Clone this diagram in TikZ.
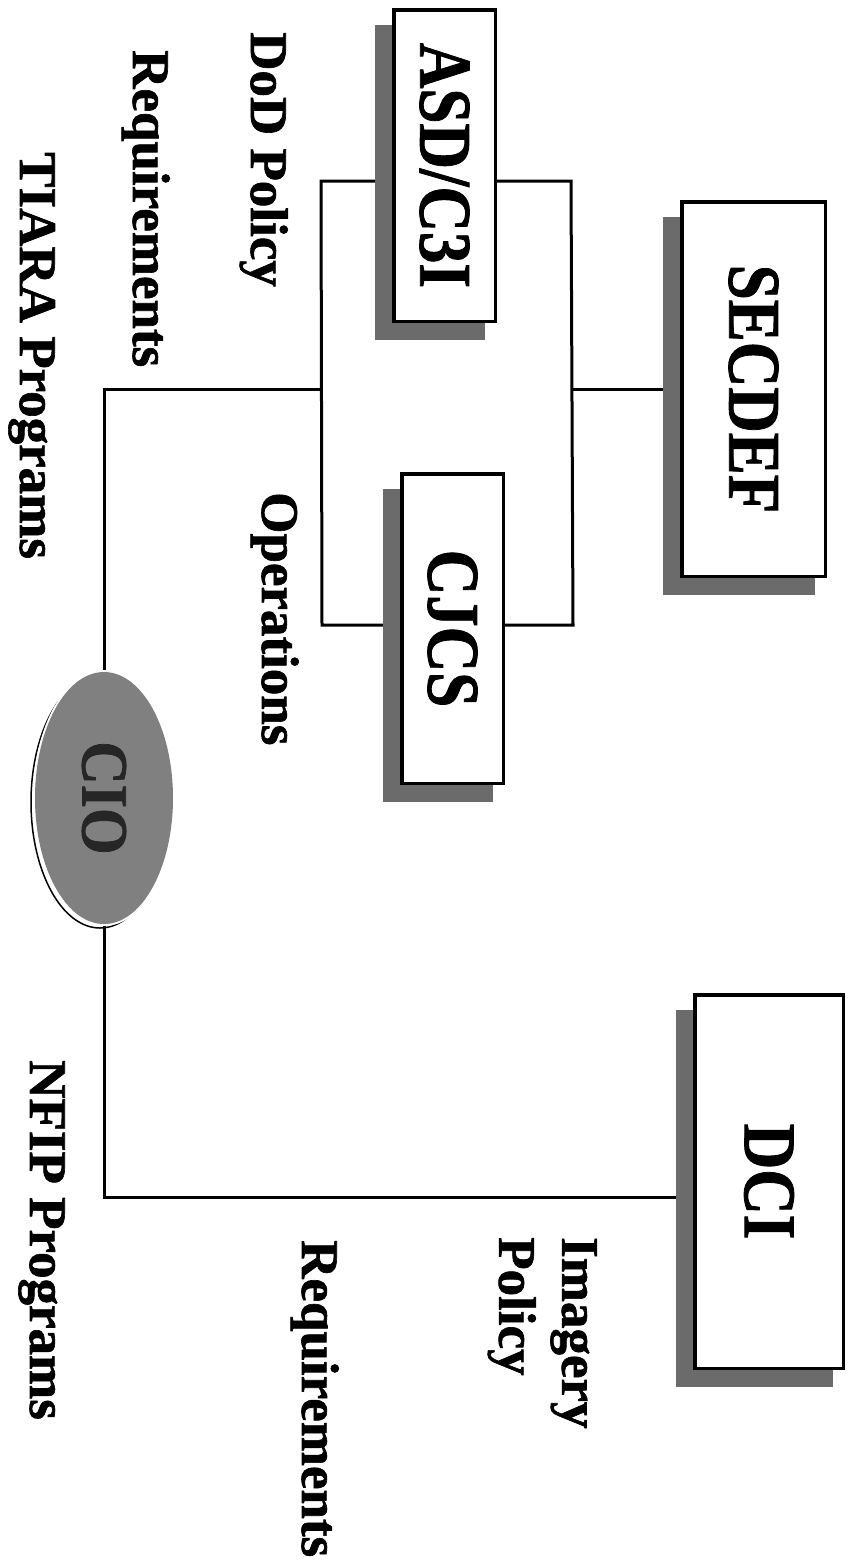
\documentclass[tikz,border=0pt]{standalone}
\usepackage{fontspec}
\setmainfont{Liberation Serif}[BoldFeatures={FakeBold=1.2}]
\usepackage{graphicx}
\usetikzlibrary{shapes.geometric}
\pgfdeclarelayer{bg}
\pgfdeclarelayer{shad}
\pgfsetlayers{bg,shad,main}
\begin{document}
\begin{tikzpicture}[x=1pt,y=-1pt,
  conn/.style={line width=3pt},
  orgbox/.style={draw, line width=3.5pt, fill=white, rotate=-90, inner sep=0pt,
    font=\bfseries\fontsize{63}{70}\selectfont},
  shadowfill/.style={fill=black!58},
  lab/.style={rotate=-90, inner sep=0pt, anchor=base west,
    font=\bfseries\fontsize{53}{63}\selectfont},
  ciostyle/.style={ellipse, fill=black!50, inner sep=0pt,
    font=\bfseries\fontsize{60}{66}\selectfont, text=black!85},
]
\useasboundingbox (0,0) rectangle (849,1566);

% boxes
\node[orgbox, minimum width=374.5pt, minimum height=143.5pt] (secdef) at (753.5,389) {\scalebox{1}[1.18]{SECDEF}};
\node[orgbox, minimum width=311.5pt, minimum height=101.5pt] (asd) at (444.5,165.5) {\scalebox{1}[1.18]{ASD/C3I}};
\node[orgbox, minimum width=309.5pt, minimum height=101.5pt] (cjcs) at (452.5,628.5) {\scalebox{1}[1.18]{CJCS}};
\node[orgbox, minimum width=373.5pt, minimum height=148.5pt] (dci) at (769,1181.5) {\scalebox{1}[1.18]{DCI}};
\node[ciostyle, minimum width=138pt, minimum height=252pt] (cio) at (104,798) {\rotatebox{-90}{\scalebox{1}[1.1]{CIO}}};

% labels
\node[lab] (dodpolicy) at (251,32) {DoD Policy};
\node[lab] (reqleft) at (133,50) {Requirements};
\node[lab] (tiara) at (20,152) {TIARA Programs};
\node[lab] (ops) at (262,492) {Operations};
\node[lab, anchor=north west, align=left] (imgpol) at (597,1237) {Imagery\\Policy};
\node[lab] (reqright) at (302,1240) {Requirements};
\node[lab] (nfip) at (30,1060) {NFIP Programs};

% bracket coordinates
\coordinate (bTL) at (321,181);
\coordinate (bTR) at (571,181);
\coordinate (bBR) at (573,625);
\coordinate (bBL) at (322,625);
\coordinate (bL) at (321,389);
\coordinate (bR) at (571,386);

\begin{pgfonlayer}{bg}
  \fill[white] (0,0) rectangle (849,1566);
  \draw[conn] (bTL) -- (bTR) -- (bBR) -- (bBL) -- cycle;
  \draw[conn] (secdef.south) -- (secdef.south -| bR);
  \draw[conn] (bL) -| (cio.north);
  \draw[conn] (cio.south) |- ([yshift=-16pt]dci.south);
\end{pgfonlayer}

\begin{pgfonlayer}{shad}
  \foreach \b in {secdef,asd,cjcs,dci}
    \fill[shadowfill] ([shift={(-17,17)}]\b.south west) rectangle ([shift={(-12,17)}]\b.north east);
  \draw[line width=1.5pt] ([shift={(-4,4)}]cio.center) ellipse [x radius=69pt, y radius=126pt];
  \fill[white] (cio.center) ellipse [x radius=71pt, y radius=128pt];
\end{pgfonlayer}
\end{tikzpicture}
\end{document}
